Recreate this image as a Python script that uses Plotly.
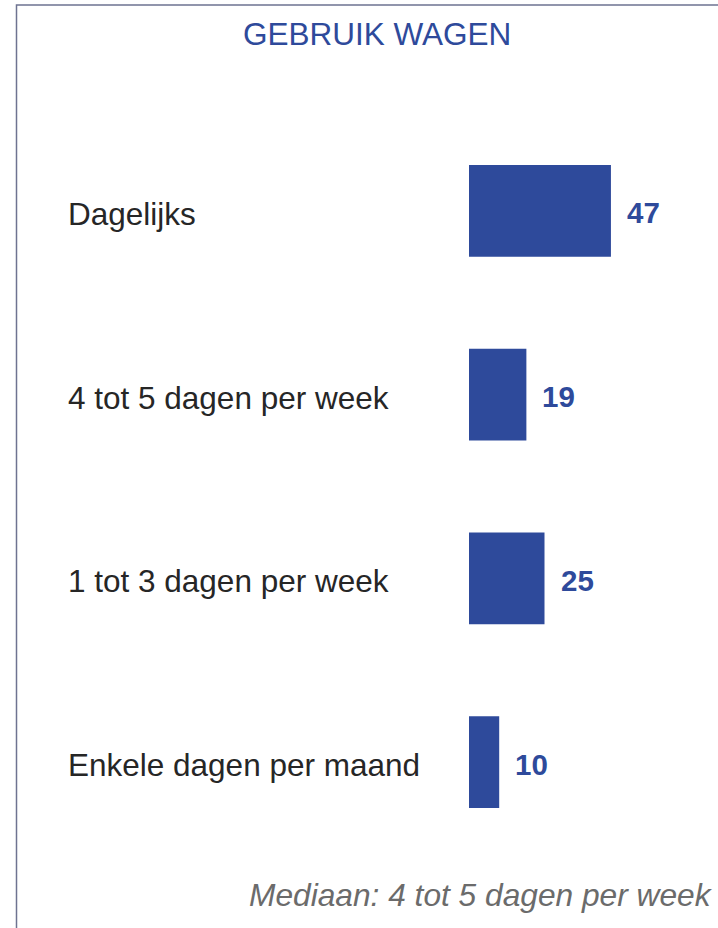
import plotly.graph_objects as go

categories = ["Dagelijks", "4 tot 5 dagen per week", "1 tot 3 dagen per week", "Enkele dagen per maand"]
values = [47, 19, 25, 10]
value_labels = ["47", "19", "25", "10"]
title_text = "GEBRUIK WAGEN"
note_text = "Mediaan: 4 tot 5 dagen per week"

BLUE = "#2E4A9B"
W, H = 718, 928
ML, MR, MT, MB = 469, 0, 119, 74
PW = W - ML - MR
PH = H - MT - MB

def px_x(px):
    return (px - ML) / PW

def px_y(py):
    return (H - MB - py) / PH

fig = go.Figure()
fig.add_trace(go.Bar(
    x=values, y=categories, orientation="h",
    marker=dict(color=BLUE, line=dict(width=0)),
    width=0.5, hoverinfo="skip",
))

annotations = []
for cat, v, lab in zip(categories, values, value_labels):
    annotations.append(dict(
        x=px_x(66), xref="paper", y=cat, yref="y", text=cat,
        xanchor="left", yanchor="middle", showarrow=False, yshift=-3,
        font=dict(family="Liberation Sans, Arial, sans-serif", size=31.5, color="#262626"),
    ))
    annotations.append(dict(
        x=v, xref="x", y=cat, yref="y", text=f"<b>{lab}</b>",
        xanchor="left", yanchor="middle", showarrow=False, xshift=14, yshift=-2,
        font=dict(family="Liberation Sans, Arial, sans-serif", size=29.5, color=BLUE),
    ))
annotations.append(dict(
    x=px_x(377), xref="paper", y=px_y(34), yref="paper", text=title_text,
    xanchor="center", yanchor="middle", showarrow=False,
    font=dict(family="Liberation Sans, Arial, sans-serif", size=31.5, color=BLUE),
))
annotations.append(dict(
    x=px_x(715), xref="paper", y=px_y(895), yref="paper", text=f"<i>{note_text}</i>",
    xanchor="right", yanchor="middle", showarrow=False,
    font=dict(family="Liberation Sans, Arial, sans-serif", size=31.7, color="#6B6B6B"),
))

fig.update_layout(
    width=W, height=H,
    margin=dict(l=ML, r=MR, t=MT, b=MB, pad=0),
    paper_bgcolor="white", plot_bgcolor="white",
    showlegend=False,
    xaxis=dict(range=[0, PW / 3.02], visible=False, fixedrange=True),
    yaxis=dict(categoryorder="array", categoryarray=categories, autorange="reversed",
               visible=False, fixedrange=True),
    annotations=annotations,
    shapes=[dict(type="rect", xref="paper", yref="paper",
                 x0=px_x(16.5), x1=px_x(745), y0=px_y(945), y1=px_y(5),
                 line=dict(color="#6E7391", width=1.5), fillcolor="rgba(0,0,0,0)",
                 layer="below")],
)

fig.write_html(
    "out.html",
    config={"displayModeBar": False},
    post_script="document.body.style.margin='0';document.body.style.overflow='hidden';",
)
